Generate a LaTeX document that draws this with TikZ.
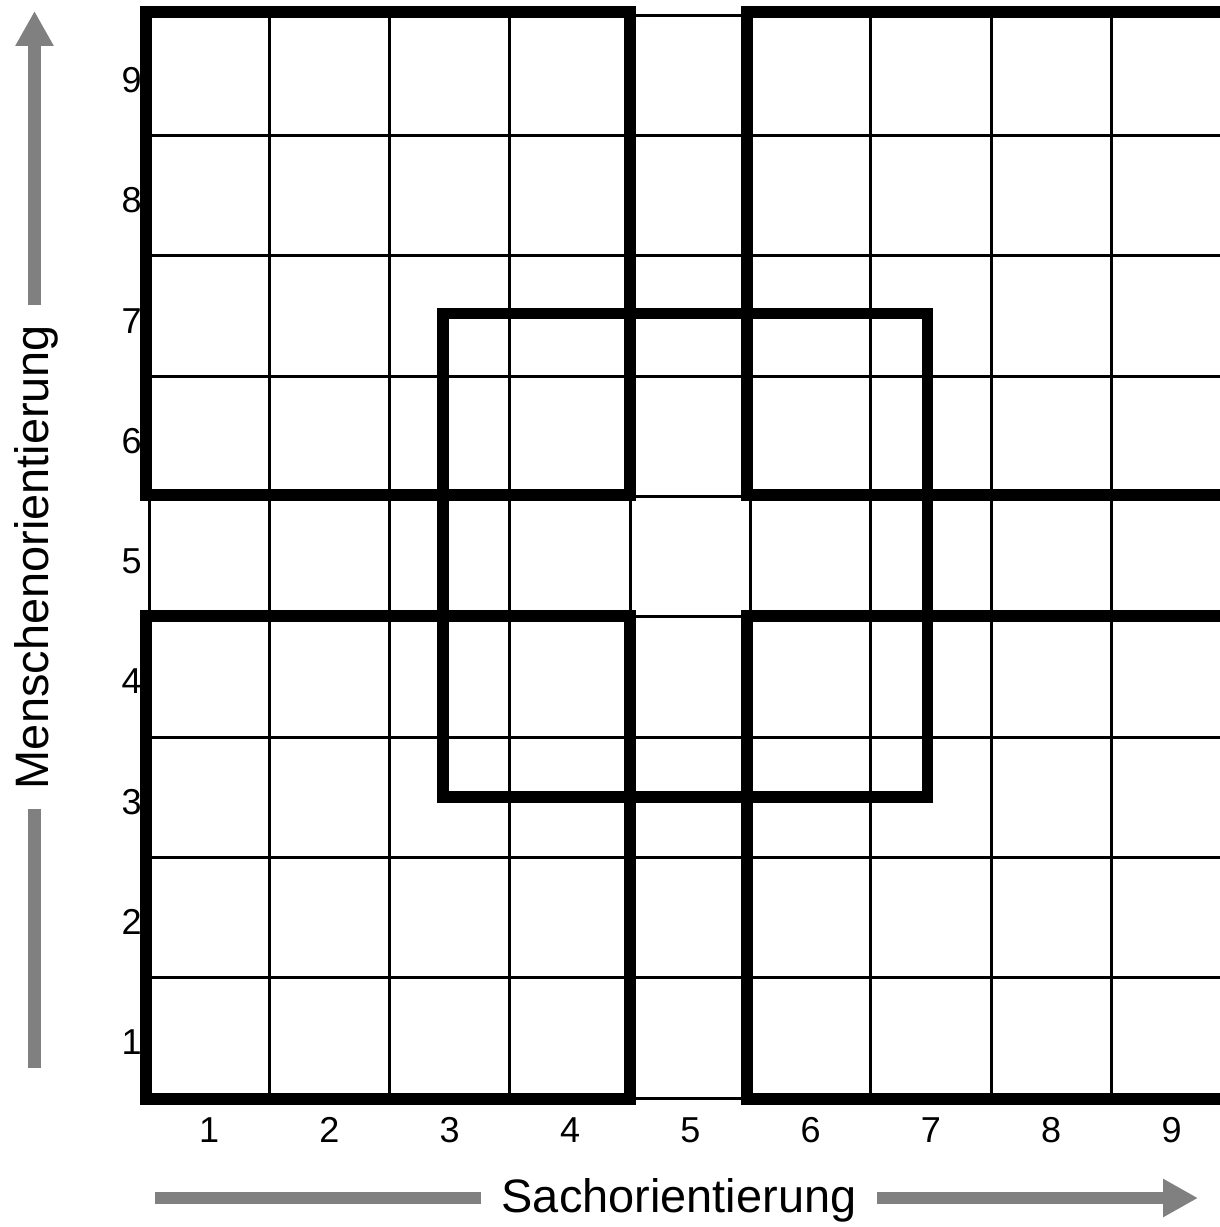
\documentclass[tikz,border=0pt]{standalone}
\usepackage{fontspec}
\setmainfont{Liberation Sans}
\usetikzlibrary{arrows.meta}
\definecolor{arrowgray}{HTML}{808080}
\begin{document}
\begin{tikzpicture}[x=0.02cm,y=-0.02cm,
  gridline/.style={line width=0.06cm, black},
  thickbox/.style={line width=0.23cm, black},
  axisbar/.style={line width=0.25cm, arrowgray},
  axisarrow/.style={axisbar, -{Triangle[length=0.7cm,width=0.72cm]}},
  numlabel/.style={font=\fontsize{20.5}{24}\selectfont, inner sep=0pt},
  axislabel/.style={font=\fontsize{26.7}{32}\selectfont, inner xsep=0.4cm, inner ysep=0pt}]
\useasboundingbox (0,0) rectangle (1220,1227);
\fill[white] (0,0) rectangle (1220,1227);
\clip (0,0) rectangle (1220,1227);
% thin grid
\foreach \i in {0,...,9} {
  \draw[gridline] ({149+\i*120.3},15.3) -- ({149+\i*120.3},1098);
  \draw[gridline] (149,{1098-\i*120.3}) -- (1240,{1098-\i*120.3});
}
% row labels
\foreach \j in {1,...,9}
  \node[numlabel, anchor=base east] (row\j) at (142,{1098-(\j-0.5)*120.3+17}) {\j};
% column labels
\foreach \i in {1,...,9}
  \node[numlabel, anchor=base] (col\i) at ({149+(\i-0.5)*120.3},1142) {\i};
% thick boxes
\draw[thickbox] (146,12) rectangle (630,495);
\draw[thickbox] (146,616) rectangle (630,1099);
\draw[thickbox] (747,12) rectangle (1300,495);
\draw[thickbox] (747,616) rectangle (1300,1099);
\draw[thickbox] (443,313.5) rectangle (927.5,797);
% horizontal axis
\node[axislabel, anchor=base] (sach) at (679,1212) {Sachorientierung};
\coordinate (hL) at (155,1198);
\coordinate (hR) at (1198,1198);
\draw[axisbar] (hL) -- (hL -| sach.west);
\draw[axisarrow] (hR -| sach.east) -- (hR);
% vertical axis
\node[axislabel, rotate=90, anchor=base] (mensch) at (48,557) {Menschenorientierung};
\coordinate (vB) at (34.5,1068);
\coordinate (vT) at (34.5,11);
\draw[axisbar] (vB) -- (mensch.west -| vB);
\draw[axisarrow] (mensch.east -| vT) -- (vT);
\end{tikzpicture}
\end{document}
